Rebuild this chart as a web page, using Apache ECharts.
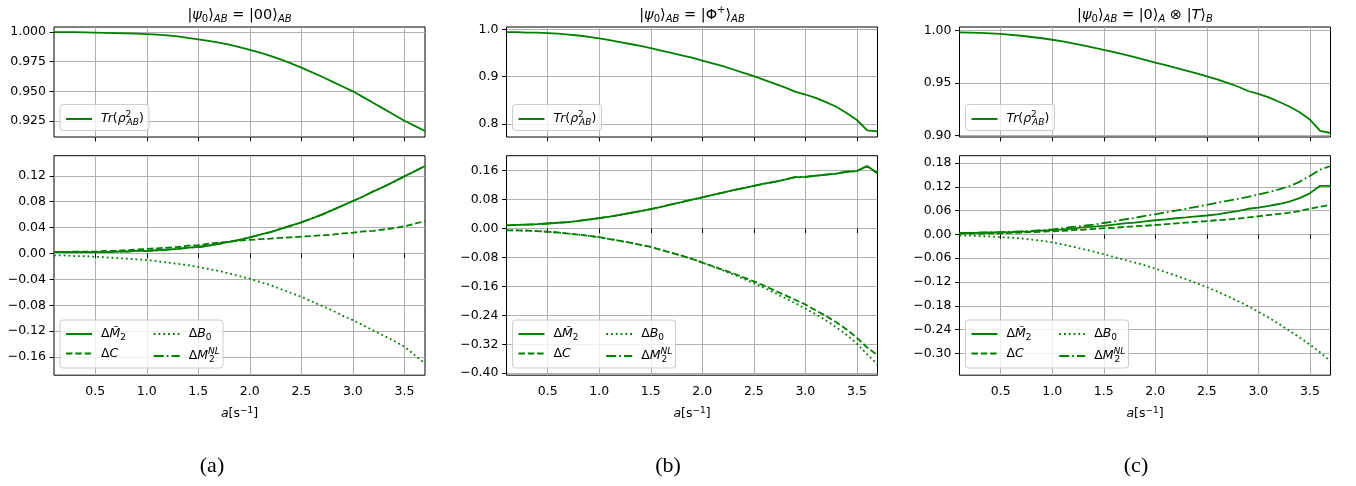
<!DOCTYPE html>
<html><head><meta charset="utf-8">
<script src="https://cdn.jsdelivr.net/npm/echarts@6/dist/echarts.min.js"></script>
<style>html,body{margin:0;padding:0;background:#fff}#c{width:1356px;height:486px}</style>
</head><body><div id="c"></div>
<script>
// ---------------- data ----------------
const xs = [0.1,0.2,0.3,0.4,0.5,0.6,0.7,0.8,0.9,1.0,1.1,1.2,1.3,1.4,1.5,1.6,1.7,1.8,1.9,2.0,2.1,2.2,2.3,2.4,2.5,2.6,2.7,2.8,2.9,3.0,3.1,3.2,3.3,3.4,3.5,3.6,3.7];
const xTicks = [0.5,1.0,1.5,2.0,2.5,3.0,3.5];

// (a) |00>
const aTr = [0.9999,0.9999,0.9998,0.9997,0.9995,0.9993,0.9991,0.9989,0.9986,0.9982,0.9977,0.9971,0.9963,0.9950,0.9938,0.9925,0.9911,0.9894,0.9873,0.9850,0.9826,0.9799,0.9769,0.9736,0.9700,0.9662,0.9623,0.9582,0.9541,0.9500,0.9451,0.9402,0.9352,0.9302,0.9252,0.9209,0.9166];
const aM  = [0.002,0.002,0.002,0.002,0.002,0.002,0.003,0.003,0.004,0.004,0.005,0.006,0.007,0.009,0.010,0.012,0.015,0.018,0.021,0.025,0.029,0.033,0.038,0.043,0.048,0.054,0.060,0.067,0.074,0.081,0.088,0.096,0.103,0.111,0.119,0.127,0.135];
const aC  = [0.002,0.002,0.003,0.003,0.003,0.004,0.004,0.005,0.006,0.007,0.008,0.009,0.010,0.012,0.013,0.015,0.017,0.018,0.020,0.021,0.022,0.023,0.024,0.025,0.026,0.027,0.028,0.029,0.031,0.032,0.034,0.035,0.037,0.039,0.042,0.046,0.050];
const aB  = [-0.003,-0.003,-0.004,-0.004,-0.005,-0.006,-0.007,-0.008,-0.009,-0.010,-0.012,-0.014,-0.016,-0.018,-0.021,-0.024,-0.027,-0.031,-0.035,-0.039,-0.044,-0.049,-0.055,-0.061,-0.067,-0.074,-0.081,-0.088,-0.096,-0.103,-0.111,-0.119,-0.127,-0.135,-0.144,-0.157,-0.170];
const aNL = [0.002,0.002,0.002,0.002,0.002,0.002,0.003,0.003,0.004,0.004,0.005,0.006,0.007,0.009,0.010,0.012,0.015,0.018,0.021,0.025,0.029,0.033,0.038,0.043,0.048,0.054,0.060,0.067,0.074,0.081,0.088,0.096,0.103,0.111,0.119,0.127,0.135];

// (b) |Phi+>
const bTr = [0.994,0.994,0.993,0.993,0.992,0.991,0.989,0.987,0.984,0.981,0.977,0.973,0.969,0.965,0.960,0.955,0.950,0.945,0.940,0.934,0.928,0.922,0.915,0.908,0.901,0.893,0.885,0.877,0.868,0.862,0.855,0.846,0.836,0.823,0.808,0.786,0.784];
const bM  = [0.009,0.010,0.011,0.012,0.014,0.016,0.018,0.021,0.025,0.029,0.033,0.038,0.043,0.048,0.054,0.060,0.067,0.073,0.080,0.086,0.093,0.099,0.106,0.112,0.118,0.124,0.129,0.135,0.142,0.143,0.146,0.149,0.152,0.157,0.159,0.173,0.153];
const bC  = [-0.005,-0.005,-0.006,-0.007,-0.009,-0.011,-0.014,-0.017,-0.020,-0.024,-0.029,-0.034,-0.039,-0.045,-0.051,-0.059,-0.067,-0.075,-0.084,-0.094,-0.104,-0.114,-0.124,-0.135,-0.146,-0.158,-0.171,-0.184,-0.197,-0.210,-0.226,-0.242,-0.259,-0.279,-0.302,-0.329,-0.350];
const bB  = [-0.005,-0.005,-0.006,-0.007,-0.009,-0.011,-0.014,-0.017,-0.020,-0.024,-0.029,-0.034,-0.039,-0.045,-0.051,-0.059,-0.067,-0.075,-0.084,-0.094,-0.105,-0.116,-0.127,-0.139,-0.151,-0.164,-0.178,-0.192,-0.206,-0.221,-0.237,-0.254,-0.273,-0.294,-0.318,-0.348,-0.376];
const bNL = [0.009,0.010,0.011,0.012,0.014,0.016,0.018,0.021,0.025,0.029,0.033,0.038,0.043,0.048,0.054,0.060,0.067,0.073,0.080,0.086,0.093,0.099,0.106,0.112,0.118,0.124,0.129,0.135,0.142,0.143,0.146,0.149,0.152,0.157,0.159,0.173,0.153];

// (c) |0>_A (x) |T>_B
const cTr = [0.9980,0.9979,0.9977,0.9972,0.9966,0.9958,0.9949,0.9937,0.9925,0.9911,0.9895,0.9877,0.9858,0.9837,0.9815,0.9793,0.9770,0.9745,0.9720,0.9694,0.9669,0.9643,0.9617,0.9591,0.9564,0.9535,0.9502,0.9467,0.9424,0.9396,0.9363,0.9322,0.9277,0.9222,0.9153,0.9045,0.9025];
const cM  = [0.004,0.004,0.004,0.005,0.005,0.006,0.007,0.008,0.010,0.011,0.013,0.015,0.018,0.020,0.022,0.025,0.028,0.030,0.033,0.036,0.038,0.041,0.043,0.046,0.048,0.051,0.055,0.059,0.065,0.068,0.072,0.077,0.083,0.092,0.104,0.123,0.123];
const cC  = [0.002,0.002,0.002,0.003,0.003,0.004,0.005,0.006,0.007,0.008,0.009,0.011,0.012,0.014,0.016,0.017,0.019,0.021,0.022,0.024,0.026,0.028,0.030,0.032,0.034,0.036,0.038,0.040,0.043,0.046,0.049,0.052,0.055,0.059,0.065,0.070,0.075];
const cB  = [-0.003,-0.003,-0.004,-0.005,-0.007,-0.008,-0.010,-0.013,-0.016,-0.020,-0.025,-0.031,-0.037,-0.043,-0.050,-0.057,-0.064,-0.071,-0.078,-0.086,-0.095,-0.104,-0.113,-0.123,-0.133,-0.144,-0.156,-0.168,-0.181,-0.195,-0.210,-0.226,-0.243,-0.260,-0.278,-0.298,-0.320];
const cNL = [0.004,0.004,0.005,0.005,0.006,0.007,0.008,0.009,0.011,0.013,0.016,0.019,0.022,0.025,0.029,0.033,0.038,0.042,0.047,0.051,0.056,0.060,0.065,0.070,0.075,0.080,0.085,0.090,0.095,0.101,0.107,0.114,0.122,0.133,0.148,0.164,0.173];

// tick labels
const aTopTicks = [0.925,0.950,0.975,1.000];
const aBotTicks = [-0.16,-0.12,-0.08,-0.04,0.00,0.04,0.08,0.12];
const bTopTicks = [0.8,0.9,1.0];
const bBotTicks = [-0.40,-0.32,-0.24,-0.16,-0.08,0.00,0.08,0.16];
const cTopTicks = [0.90,0.95,1.00];
const cBotTicks = [-0.30,-0.24,-0.18,-0.12,-0.06,0.00,0.06,0.12,0.18];
const captions = ['(a)','(b)','(c)'];

// ---------------- layout / style ----------------
const FONT = 'DejaVu Sans';
const GREEN = '#008000';
const FS = 12.5;
const gLeft = [54, 506.5, 959.5], gW = 371;
const topY = 27, topH = 110, botY = 155.7, botH = 219.5;

const yCfg = [
  {min:0.9115, max:1.0042, ticks:aTopTicks, dec:3},
  {min:0.772,  max:1.0050, ticks:bTopTicks, dec:1},
  {min:0.8987, max:1.0032, ticks:cTopTicks, dec:2},
  {min:-0.188, max:0.151,  ticks:aBotTicks, dec:2},
  {min:-0.4055,max:0.2014, ticks:bBotTicks, dec:2},
  {min:-0.3554,max:0.199,  ticks:cBotTicks, dec:2}
];

const grids = [], xAxes = [], yAxes = [];
for (let r = 0; r < 2; r++) {
  for (let c = 0; c < 3; c++) {
    const gi = r*3 + c;
    grids.push({left: gLeft[c], top: r ? botY : topY, width: gW, height: r ? botH : topH,
      show: true, borderColor: '#000', borderWidth: 1, backgroundColor: 'transparent', containLabel: false});
    xAxes.push({type:'value', gridIndex: gi, min: 0.1, max: 3.7,
      axisLine:{show:false},
      axisTick:{show:true, inside:false, length:4.4, customValues:xTicks, lineStyle:{color:'#000', width:1}},
      axisLabel:{show: r===1, customValues:xTicks, margin:10, fontSize:FS, fontFamily:FONT, color:'#000',
                 formatter: v => v.toFixed(1)},
      splitLine:{show:true, lineStyle:{color:'#b0b0b0', width:1}},
      name: r===1 ? '{ai|a}{an|[s}{asup|−1}{an|]}' : '', nameLocation:'middle', nameGap: 31,
      nameTextStyle:{rich:{
        ai:{fontFamily:FONT, fontSize:FS, fontStyle:'italic', lineHeight:16, color:'#000'},
        an:{fontFamily:FONT, fontSize:FS, lineHeight:16, color:'#000'},
        asup:{fontFamily:FONT, fontSize:9, lineHeight:16, padding:[0,0,8,0], color:'#000'}
      }}
    });
    const yc = yCfg[gi];
    yAxes.push({type:'value', gridIndex: gi, min: yc.min, max: yc.max,
      axisLine:{show:false},
      axisTick:{show:true, inside:false, length:4.4, customValues:yc.ticks, lineStyle:{color:'#000', width:1}},
      axisLabel:{show:true, customValues:yc.ticks, margin:8, fontSize:FS, fontFamily:FONT, color:'#000',
                 formatter: v => v.toFixed(yc.dec).replace('-', '\u2212')},
      splitLine:{show:true, lineStyle:{color:'#b0b0b0', width:1}}
    });
  }
}

const lineTypes = {Tr:'solid', dM:'solid', dC:[6.5,2.8], dB:[1.8,3], dNL:[10,3,1.8,3]};
const panels = [
  {Tr:aTr, dM:aM, dC:aC, dB:aB, dNL:aNL},
  {Tr:bTr, dM:bM, dC:bC, dB:bB, dNL:bNL},
  {Tr:cTr, dM:cM, dC:cC, dB:cB, dNL:cNL}
];
const series = [];
panels.forEach((p, c) => {
  series.push({name:'Tr', type:'line', xAxisIndex:c, yAxisIndex:c, symbol:'none', showSymbol:false, silent:true, animation:false,
    lineStyle:{color:GREEN, width:1.8, type:lineTypes.Tr}, itemStyle:{color:GREEN},
    data: xs.map((x,i)=>[x, p.Tr[i]])});
  ['dM','dC','dB','dNL'].forEach(k => {
    series.push({name:k, type:'line', xAxisIndex:3+c, yAxisIndex:3+c, symbol:'none', showSymbol:false, silent:true, animation:false,
      lineStyle:{color:GREEN, width:1.8, type:lineTypes[k], cap:'butt'}, itemStyle:{color:GREEN},
      data: xs.map((x,i)=>[x, p[k][i]])});
  });
});

const legRich = {
  sp:{width:4, fontSize:FS, lineHeight:14},
  n:{fontFamily:FONT, fontSize:FS, lineHeight:14, color:'#000'},
  it:{fontFamily:FONT, fontSize:FS, fontStyle:'italic', lineHeight:14, color:'#000'},
  sub:{fontFamily:FONT, fontSize:9, lineHeight:14, padding:[7,0,0,0], color:'#000'},
  subi:{fontFamily:FONT, fontSize:9, fontStyle:'italic', lineHeight:14, padding:[7,0,0,0], color:'#000'},
  supz:{fontFamily:FONT, fontSize:9, lineHeight:14, padding:[0,0,9,0], width:1, color:'#000'},
  supzi:{fontFamily:FONT, fontSize:9, fontStyle:'italic', lineHeight:14, padding:[0,0,9,0], width:1, color:'#000'}
};
const legText = {
  Tr:'{sp| }{it|Tr}{n|(}{it|ρ}{supz|2}{subi|AB}{n|)}',
  dM:'{sp| }{n|Δ}{it|M\u0303}{sub|2}',
  dC:'{sp| }{n|Δ}{it|C}',
  dB:'{sp| }{n|Δ}{it|B}{sub|0}',
  dNL:'{sp| }{n|Δ}{it|M}{supzi|NL}{sub|2}'
};
function mkLegend(left, top, data) {
  return {left, top, orient:'vertical', padding:0, itemWidth:26, itemHeight:14, itemGap:5, z:20,
    selectedMode:false, data, formatter: n => legText[n],
    itemStyle:{color:'rgba(0,0,0,0)', borderColor:'rgba(0,0,0,0)', borderWidth:0, opacity:0},
    textStyle:{fontFamily:FONT, fontSize:FS, color:'#000', rich:legRich}};
}
const legends = [], boxes = [];
gLeft.forEach(L => {
  legends.push(mkLegend(L+11, 110, ['Tr']));
  legends.push(mkLegend(L+11, 326, ['dM','dC']));
  legends.push(mkLegend(L+98.7, 326, ['dB','dNL']));
  boxes.push({type:'rect', z:10, shape:{x:L+6, y:104.5, width:89, height:26, r:3},
    style:{fill:'rgba(255,255,255,0.8)', stroke:'#cccccc', lineWidth:1}});
  boxes.push({type:'rect', z:10, shape:{x:L+6, y:320, width:163, height:48, r:3},
    style:{fill:'rgba(255,255,255,0.8)', stroke:'#cccccc', lineWidth:1}});
});

const tRich = {
  t:{fontFamily:FONT, fontSize:14.5, lineHeight:18, color:'#000'},
  ti:{fontFamily:FONT, fontSize:14.5, fontStyle:'italic', lineHeight:18, color:'#000'},
  ts:{fontFamily:FONT, fontSize:10, lineHeight:18, padding:[8,0,0,0], color:'#000'},
  tsi:{fontFamily:FONT, fontSize:10, fontStyle:'italic', lineHeight:18, padding:[8,0,0,0], color:'#000'},
  tp:{fontFamily:FONT, fontSize:10, lineHeight:18, padding:[0,0,10,0], color:'#000'}
};
const titleTexts = [
  '{t||}{ti|ψ}{ts|0}{t|⟩}{tsi|AB}{t| = |00⟩}{tsi|AB}',
  '{t||}{ti|ψ}{ts|0}{t|⟩}{tsi|AB}{t| = |Φ}{tp|+}{t|⟩}{tsi|AB}',
  '{t||}{ti|ψ}{ts|0}{t|⟩}{tsi|AB}{t| = |0⟩}{tsi|A}{t| ⊗ |}{ti|T}{t|⟩}{tsi|B}'
];
const titles = [];
gLeft.forEach((L, c) => {
  titles.push({text: titleTexts[c], left: L + gW/2, top: 6, textAlign:'center', padding:0,
    textStyle:{rich:tRich, fontSize:14.5, fontWeight:'normal'}});
});
const capX = [212, 668, 1136];
captions.forEach((t, c) => {
  titles.push({text: t, left: capX[c], top: 455, textAlign:'center', padding:0,
    textStyle:{fontFamily:'Liberation Serif', fontSize:22, fontWeight:'normal', color:'#000'}});
});

const chart = echarts.init(document.getElementById('c'), null, {renderer:'canvas'});
chart.setOption({
  animation:false,
  backgroundColor:'#fff',
  title: titles,
  grid: grids, xAxis: xAxes, yAxis: yAxes,
  legend: legends,
  graphic: {elements: boxes},
  series
});
</script></body></html>
